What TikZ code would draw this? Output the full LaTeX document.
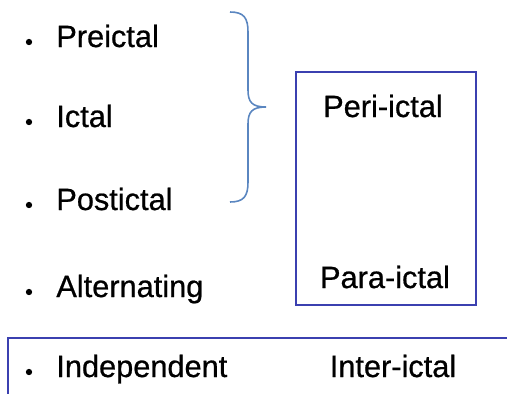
\documentclass[tikz,border=0pt]{standalone}
\usepackage{fontspec}
\setmainfont{Liberation Sans}
\newfontface\labelfont{Liberation Sans}[FakeBold=0.7]
\definecolor{boxblue}{HTML}{3B40B0}
\definecolor{braceblue}{HTML}{5A86C0}
\tikzset{
    term/.style={anchor=base west, inner sep=0pt, font=\labelfont\fontsize{17.5}{20}\selectfont},
    phase/.style={anchor=base, inner sep=0pt, font=\labelfont\fontsize{17.5}{20}\selectfont},
    dot/.style={circle, fill=black, inner sep=0pt, minimum size=3.6pt},
}
\begin{document}
\begin{tikzpicture}[x=0.02cm, y=-0.02cm]
        \useasboundingbox (0, 0) rectangle (507, 393);
        % left column
        \foreach \name/\txt/\y in {pre/Preictal/47, ict/Ictal/127, post/Postictal/210,
                alt/Alternating/297, ind/Independent/377} {
                \node[dot] (\name dot) at (29, \y - 5) {};
                \node[term] (\name) at (56, \y) {\txt};
            }
        % brace
        \coordinate (braceTop) at (230, 12);
        \coordinate (braceTip) at (266, 107);
        \coordinate (braceBot) at (230, 202);
        \draw[braceblue, line width=.9pt] (braceTop)
            .. controls (244, 12) and (248, 18) .. (248, 32) -- (248, 90)
            .. controls (248, 102) and (252, 107) .. (braceTip)
            .. controls (252, 107) and (248, 112) .. (248, 124) -- (248, 182)
            .. controls (248, 196) and (244, 202) .. (braceBot);
        % boxes
        \draw[boxblue, line width=1.1pt] (296, 72) rectangle (476, 305);
        \draw[boxblue, line width=1.1pt] (8, 338) rectangle (520, 410);
        \node[phase] (peri) at (383, 117) {Peri-ictal};
        \node[phase] (para) at (385, 288) {Para-ictal};
        \node[phase] (inter) at (393, 377) {Inter-ictal};
    \end{tikzpicture}
\end{document}
